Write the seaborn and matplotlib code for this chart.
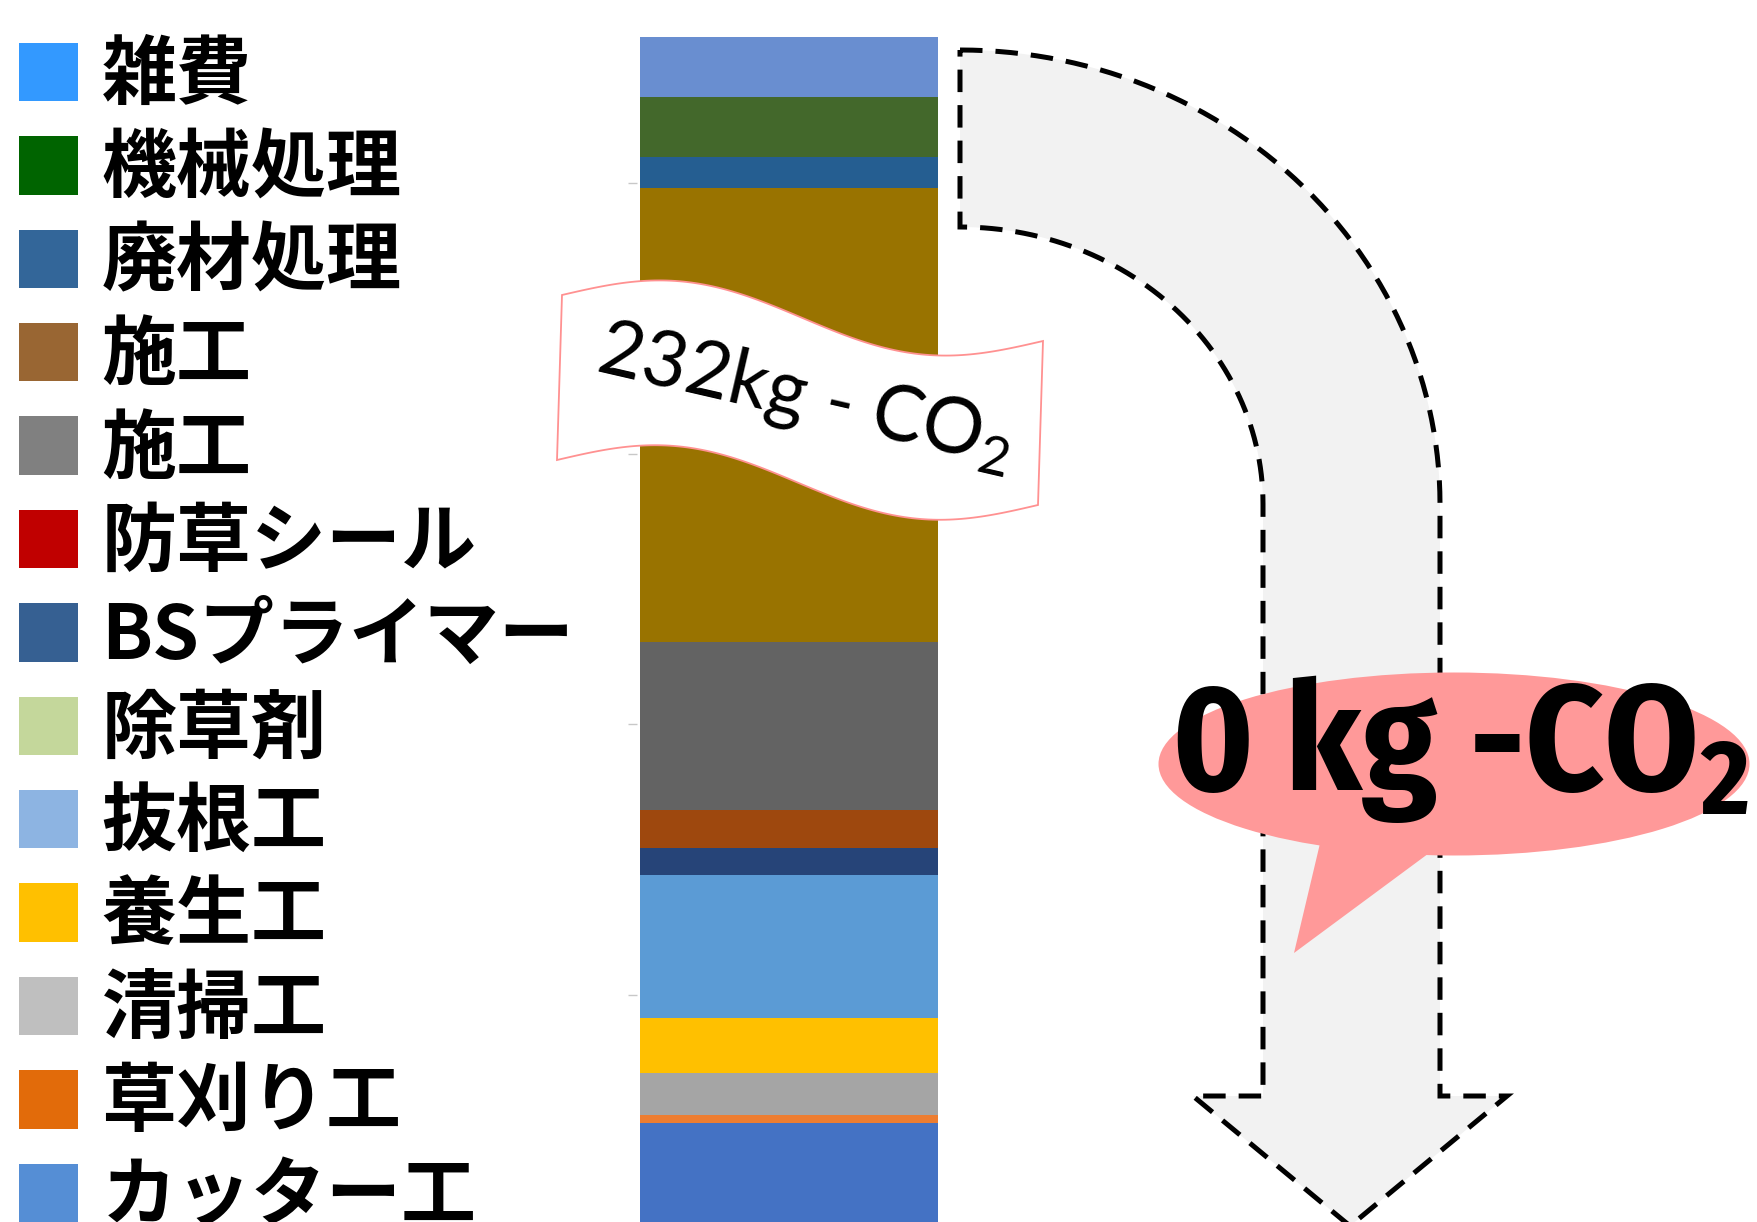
"""
Stacked CO2 bar (232 kg) with curved arrow to 0 kg
"""
import numpy as np
import pandas as pd
import matplotlib
matplotlib.use('Agg')
import matplotlib.pyplot as plt
import seaborn as sns
from matplotlib.patches import Patch, Ellipse, Polygon

## Data: bar segments, top to bottom (kg-CO2)
items = ['雑費', '機械処理', '廃材処理', '施工', '施工', '防草シール', 'BSプライマー',
         '除草剤', '抜根工', '養生工', '清掃工', '草刈り工', 'カッター工']
values = [11.1, 11.1, 5.7, 83.9, 31.0, 7.0, 5.0, 0.0, 26.5, 10.1, 7.8, 1.4, 26.4]
bar_colors = ['#698ed0', '#43682b', '#255e91', '#997300', '#636363', '#9e480e', '#264478',
              '#70ad47', '#5b9bd5', '#ffc000', '#a5a5a5', '#ed7d31', '#4472c4']
legend_colors = ['#3399ff', '#006400', '#336699', '#996633', '#808080', '#c00000', '#366092',
                 '#c4d79b', '#8db4e2', '#ffc000', '#bfbfbf', '#e26b0a', '#558ed5']
y_ticks = [50, 100, 150, 200]
total_label = '232kg - CO$_\\mathregular{2}$'
after_label = '0 kg -CO$_\\mathregular{2}$'

sns.set_theme(style='white')
plt.rcParams['font.family'] = ['Noto Sans CJK JP', 'DejaVu Sans']
plt.rcParams['text.color'] = 'black'

W, H = 1757, 1222
fig = plt.figure(figsize=(W / 100, H / 100), dpi=100)

# stacked bar
keys = [f'{i:02d}_{name}' for i, name in enumerate(items)]
df = pd.DataFrame({'key': keys, 'value': values, 'x': 0})
ax = fig.add_axes([637 / W, 0, 304 / W, 1])
sns.histplot(data=df, x='x', weights='value', hue='key', hue_order=keys,
             multiple='stack', discrete=True, palette=dict(zip(keys, bar_colors)),
             alpha=1, linewidth=0, legend=False, ax=ax)
ax.set_xlim(-0.5 - 3 / 298, 0.5 + 3 / 298)
ax.set_ylim(8.07, 233.8)
ax.set_yticks(y_ticks)
ax.set_yticklabels([])
ax.set_xticks([])
ax.set_xlabel('')
ax.set_ylabel('')
ax.tick_params(axis='y', left=True, length=6.5, width=1, color='#c8c8c8', direction='out')
for s in ax.spines.values():
    s.set_visible(False)
ax.patch.set_alpha(0)

# legend
handles = [Patch(facecolor=c, edgecolor='none') for c in legend_colors]
fig.legend(handles, items, loc='upper left', bbox_to_anchor=(19 / W, 1 - 38 / H),
           frameon=False, prop=dict(family=['Noto Sans CJK JP', 'DejaVu Sans'],
                                    weight='bold', size=54),
           handlelength=0.78, handleheight=0.82, handletextpad=0.32,
           labelspacing=0.232, borderpad=0, borderaxespad=0)

# overlay in pixel coordinates
ov = fig.add_axes([0, 0, 1, 1], zorder=5)
ov.set_xlim(0, W)
ov.set_ylim(H, 0)
ov.axis('off')

# curved dashed arrow
th = np.linspace(np.pi / 2, 0, 60)
outer = np.c_[960 + 480 * np.cos(th), 504 - 454 * np.sin(th)]
inner = np.c_[960 + 303 * np.cos(th[::-1]), 504 - 277 * np.sin(th[::-1])]
head = np.array([[1440, 1096], [1507, 1096], [1350, 1226], [1193, 1096], [1263, 1096]])
arrow = np.vstack([outer, head, inner])
ov.add_patch(Polygon(arrow, closed=True, facecolor='#f2f2f2', edgecolor='black',
                     lw=3.6, linestyle=(0, (4.5, 2.6)), joinstyle='miter'))

# wavy banner
t = np.linspace(0, 1, 120)
wave = -25 * np.sin(2 * np.pi * t)
top = np.c_[562 + 481 * t, 295 + 46 * t + wave]
bot = np.c_[557 + 481 * t, 460 + 45 * t + wave][::-1]
ov.add_patch(Polygon(np.vstack([top, bot]), closed=True, facecolor='white',
                     edgecolor='#ff9191', lw=1.3))
banner_txt = ov.text(805, 398, total_label, rotation=-13, rotation_mode='anchor',
                     ha='center', va='center', fontsize=59,
                     family=['Lato', 'Open Sans', 'DejaVu Sans'])

# speech bubble
ov.add_patch(Ellipse((1454, 764), 591, 183, facecolor='#ff9999', edgecolor='none'))
ov.add_patch(Polygon([[1322, 835], [1294, 953], [1440, 845]], closed=True,
                     facecolor='#ff9999', edgecolor='none'))
bubble_txt = ov.text(1171, 790, after_label, ha='left', va='baseline', fontsize=110,
                     fontweight='bold',
                     family=['Fira Sans Condensed', 'PT Sans Narrow', 'Roboto Condensed',
                             'Liberation Sans'])

# fit the two labels to the widths they take in the picture
fig.canvas.draw()
for txt, target in [(banner_txt, 430), (bubble_txt, 578)]:
    w = txt.get_window_extent().width
    txt.set_fontsize(txt.get_fontsize() * target / w)

fig.savefig('out.png', dpi=100)
